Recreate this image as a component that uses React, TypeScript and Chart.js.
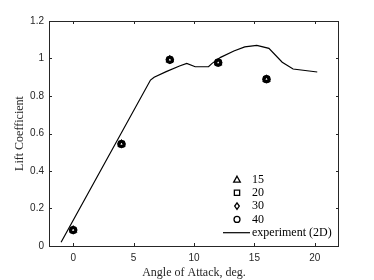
import React, { useEffect, useRef } from "react";
import { Chart, registerables } from "chart.js";

Chart.register(...registerables);

const angles = [0, 4, 8, 12, 16];
const cl15 = [0.085, 0.544, 0.993, 0.978, 0.89];
const cl20 = [0.085, 0.544, 0.993, 0.978, 0.89];
const cl30 = [0.085, 0.544, 0.993, 0.978, 0.89];
const cl40 = [0.085, 0.544, 0.993, 0.978, 0.89];

const expAlpha = [-1, 6.4, 6.7, 7.7, 8.8, 9.4, 10.1, 11.2, 11.5, 12.2, 13.3, 14.2, 15.2, 16.2, 17.3, 18.2, 20.2];
const expCl = [0.02, 0.885, 0.9, 0.93, 0.96, 0.974, 0.956, 0.956, 0.974, 1.006, 1.04, 1.062, 1.07, 1.054, 0.98, 0.944, 0.928];

const xTicks = [0, 5, 10, 15, 20];
const yTicks = [0, 0.2, 0.4, 0.6, 0.8, 1, 1.2];
const legendLabels = ["15", "20", "30", "40", "experiment (2D)"];

const AX = "#262626";
const SERIF = "'Liberation Serif', 'DejaVu Serif', serif";

const boxPlugin = {
  id: "boxTicks",
  afterDraw(chart: any) {
    const { ctx, chartArea: a, scales } = chart;
    ctx.save();
    ctx.strokeStyle = AX;
    ctx.lineWidth = 1;
    ctx.strokeRect(a.left + 0.5, a.top + 0.5, a.right - a.left - 1, a.bottom - a.top);
    const tl = 3;
    ctx.beginPath();
    for (const v of xTicks) {
      const x = Math.round(scales.x.getPixelForValue(v)) + 0.5;
      ctx.moveTo(x, a.bottom);
      ctx.lineTo(x, a.bottom - tl);
      ctx.moveTo(x, a.top);
      ctx.lineTo(x, a.top + tl);
    }
    for (const v of yTicks) {
      const y = Math.round(scales.y.getPixelForValue(v)) + 0.5;
      ctx.moveTo(a.left, y);
      ctx.lineTo(a.left + tl, y);
      ctx.moveTo(a.right, y);
      ctx.lineTo(a.right - tl, y);
    }
    ctx.stroke();

    // legend
    const mx = 237;
    const tx = 252;
    const y0 = 179.5;
    const dy = 13.3;
    ctx.strokeStyle = "#000";
    ctx.fillStyle = "#000";
    ctx.lineWidth = 1.3;
    ctx.font = "12px " + SERIF;
    ctx.textBaseline = "middle";
    ctx.textAlign = "left";
    const r = 3.3;
    legendLabels.forEach((lab, i) => {
      const y = y0 + i * dy;
      ctx.beginPath();
      if (i === 0) {
        ctx.moveTo(mx, y - r);
        ctx.lineTo(mx + r, y + r * 0.8);
        ctx.lineTo(mx - r, y + r * 0.8);
        ctx.closePath();
      } else if (i === 1) {
        ctx.rect(mx - r * 0.8, y - r * 0.8, r * 1.6, r * 1.6);
      } else if (i === 2) {
        ctx.moveTo(mx, y - r);
        ctx.lineTo(mx + r * 0.7, y);
        ctx.lineTo(mx, y + r);
        ctx.lineTo(mx - r * 0.7, y);
        ctx.closePath();
      } else if (i === 3) {
        ctx.arc(mx, y, r * 0.9, 0, Math.PI * 2);
      } else {
        ctx.lineWidth = 1.2;
        ctx.moveTo(223, y);
        ctx.lineTo(250, y);
      }
      ctx.stroke();
      ctx.fillText(lab, tx, y);
    });
    ctx.restore();
  },
};

export default function App() {
  const ref = useRef<HTMLCanvasElement>(null);
  useEffect(() => {
    document.body.style.margin = "0";
    const mk = (label: string, data: number[], style: string) => ({
      type: "scatter" as const,
      label,
      data: angles.map((a, i) => ({ x: a, y: data[i] })),
      pointStyle: style,
      pointRadius: 3.2,
      pointBorderWidth: 1.8,
      borderColor: "#000",
      backgroundColor: "rgba(0,0,0,0)",
      showLine: false,
    });
    const chart = new Chart(ref.current!, {
      type: "scatter",
      data: {
        datasets: [
          {
            type: "line",
            label: "experiment (2D)",
            data: expAlpha.map((a, i) => ({ x: a, y: expCl[i] })),
            borderColor: "#000",
            borderWidth: 1.2,
            pointRadius: 0,
            tension: 0,
            fill: false,
          } as any,
          mk("15", cl15, "triangle"),
          mk("20", cl20, "rect"),
          mk("30", cl30, "rectRot"),
          mk("40", cl40, "circle"),
        ],
      },
      options: {
        animation: false,
        responsive: false,
        maintainAspectRatio: false,
        layout: { padding: { left: 0, right: 35, top: 21, bottom: 0 } },
        plugins: { legend: { display: false }, tooltip: { enabled: false } },
        scales: {
          x: {
            type: "linear",
            min: -2,
            max: 22,
            grid: { display: false, drawTicks: false },
            border: { display: false },
            afterBuildTicks: (s: any) => {
              s.ticks = xTicks.map((v) => ({ value: v }));
            },
            afterFit: (s: any) => {
              s.height = 34;
            },
            ticks: {
              color: AX,
              padding: 6,
              maxRotation: 0,
              font: { family: "'Liberation Sans', Arial, sans-serif", size: 10 },
              callback: (v: any) => String(v),
            },
            title: {
              display: true,
              text: "Angle of Attack, deg.",
              color: AX,
              padding: { top: 0, bottom: 0 },
              font: { family: SERIF, size: 12 },
            },
          },
          y: {
            type: "linear",
            min: 0,
            max: 1.2,
            grid: { display: false, drawTicks: false },
            border: { display: false },
            afterBuildTicks: (s: any) => {
              s.ticks = yTicks.map((v) => ({ value: v }));
            },
            afterFit: (s: any) => {
              s.width = 49;
            },
            ticks: {
              color: AX,
              padding: 5,
              font: { family: "'Liberation Sans', Arial, sans-serif", size: 10 },
              callback: (v: any) => String(Math.round(v * 10) / 10),
            },
            title: {
              display: true,
              text: "Lift Coefficient",
              color: AX,
              padding: { top: 13, bottom: 0 },
              font: { family: SERIF, size: 12 },
            },
          },
        },
      } as any,
      plugins: [boxPlugin],
    });
    return () => chart.destroy();
  }, []);
  return (
    <div style={{ width: 374, height: 280, background: "#fff" }}>
      <canvas ref={ref} width={374} height={280} style={{ width: 374, height: 280, display: "block" }} />
    </div>
  );
}
